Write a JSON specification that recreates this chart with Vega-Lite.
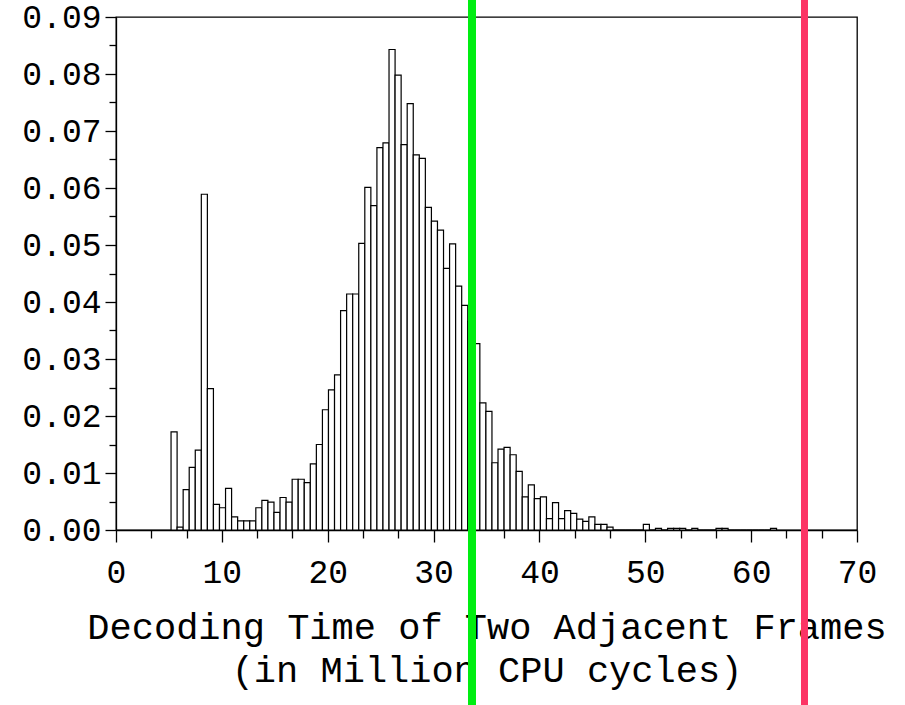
{
  "$schema": "https://vega.github.io/schema/vega-lite/v6.json",
  "width": 741,
  "height": 513,
  "autosize": {"type": "none"},
  "padding": {"left": 116, "top": 17, "right": 48, "bottom": 175},
  "background": "white",
  "config": {"view": {"stroke": "black", "strokeWidth": 1.3}, "font": "Liberation Mono"},
  "datasets": {
    "bins": [
      {"x0": 5.200, "x1": 5.772, "density": 0.0172},
      {"x0": 5.772, "x1": 6.344, "density": 0.0005},
      {"x0": 6.344, "x1": 6.916, "density": 0.0071},
      {"x0": 6.916, "x1": 7.488, "density": 0.0110},
      {"x0": 7.488, "x1": 8.060, "density": 0.0140},
      {"x0": 8.060, "x1": 8.632, "density": 0.0589},
      {"x0": 8.632, "x1": 9.204, "density": 0.0248},
      {"x0": 9.204, "x1": 9.776, "density": 0.0045},
      {"x0": 9.776, "x1": 10.348, "density": 0.0039},
      {"x0": 10.348, "x1": 10.920, "density": 0.0073},
      {"x0": 10.920, "x1": 11.492, "density": 0.0023},
      {"x0": 11.492, "x1": 12.064, "density": 0.0016},
      {"x0": 12.064, "x1": 12.636, "density": 0.0016},
      {"x0": 12.636, "x1": 13.208, "density": 0.0016},
      {"x0": 13.208, "x1": 13.780, "density": 0.0039},
      {"x0": 13.780, "x1": 14.352, "density": 0.0052},
      {"x0": 14.352, "x1": 14.924, "density": 0.0049},
      {"x0": 14.924, "x1": 15.496, "density": 0.0031},
      {"x0": 15.496, "x1": 16.068, "density": 0.0057},
      {"x0": 16.068, "x1": 16.640, "density": 0.0049},
      {"x0": 16.640, "x1": 17.212, "density": 0.0089},
      {"x0": 17.212, "x1": 17.784, "density": 0.0089},
      {"x0": 17.784, "x1": 18.356, "density": 0.0083},
      {"x0": 18.356, "x1": 18.928, "density": 0.0116},
      {"x0": 18.928, "x1": 19.500, "density": 0.0150},
      {"x0": 19.500, "x1": 20.072, "density": 0.0211},
      {"x0": 20.072, "x1": 20.644, "density": 0.0246},
      {"x0": 20.644, "x1": 21.216, "density": 0.0272},
      {"x0": 21.216, "x1": 21.788, "density": 0.0385},
      {"x0": 21.788, "x1": 22.360, "density": 0.0414},
      {"x0": 22.360, "x1": 22.932, "density": 0.0414},
      {"x0": 22.932, "x1": 23.504, "density": 0.0503},
      {"x0": 23.504, "x1": 24.076, "density": 0.0601},
      {"x0": 24.076, "x1": 24.648, "density": 0.0569},
      {"x0": 24.648, "x1": 25.220, "density": 0.0671},
      {"x0": 25.220, "x1": 25.792, "density": 0.0679},
      {"x0": 25.792, "x1": 26.364, "density": 0.0843},
      {"x0": 26.364, "x1": 26.936, "density": 0.0798},
      {"x0": 26.936, "x1": 27.508, "density": 0.0676},
      {"x0": 27.508, "x1": 28.080, "density": 0.0748},
      {"x0": 28.080, "x1": 28.652, "density": 0.0658},
      {"x0": 28.652, "x1": 29.224, "density": 0.0652},
      {"x0": 29.224, "x1": 29.796, "density": 0.0566},
      {"x0": 29.796, "x1": 30.368, "density": 0.0542},
      {"x0": 30.368, "x1": 30.940, "density": 0.0526},
      {"x0": 30.940, "x1": 31.512, "density": 0.0459},
      {"x0": 31.512, "x1": 32.084, "density": 0.0502},
      {"x0": 32.084, "x1": 32.656, "density": 0.0428},
      {"x0": 32.656, "x1": 33.228, "density": 0.0394},
      {"x0": 33.228, "x1": 33.800, "density": 0.0366},
      {"x0": 33.800, "x1": 34.372, "density": 0.0327},
      {"x0": 34.372, "x1": 34.944, "density": 0.0223},
      {"x0": 34.944, "x1": 35.516, "density": 0.0208},
      {"x0": 35.516, "x1": 36.088, "density": 0.0118},
      {"x0": 36.088, "x1": 36.660, "density": 0.0142},
      {"x0": 36.660, "x1": 37.232, "density": 0.0145},
      {"x0": 37.232, "x1": 37.804, "density": 0.0132},
      {"x0": 37.804, "x1": 38.376, "density": 0.0103},
      {"x0": 38.376, "x1": 38.948, "density": 0.0058},
      {"x0": 38.948, "x1": 39.520, "density": 0.0079},
      {"x0": 39.520, "x1": 40.092, "density": 0.0055},
      {"x0": 40.092, "x1": 40.664, "density": 0.0058},
      {"x0": 40.664, "x1": 41.236, "density": 0.0020},
      {"x0": 41.236, "x1": 41.808, "density": 0.0048},
      {"x0": 41.808, "x1": 42.380, "density": 0.0020},
      {"x0": 42.380, "x1": 42.952, "density": 0.0034},
      {"x0": 42.952, "x1": 43.524, "density": 0.0029},
      {"x0": 43.524, "x1": 44.096, "density": 0.0019},
      {"x0": 44.096, "x1": 44.668, "density": 0.0015},
      {"x0": 44.668, "x1": 45.240, "density": 0.0023},
      {"x0": 45.240, "x1": 45.812, "density": 0.0010},
      {"x0": 45.812, "x1": 46.384, "density": 0.0010},
      {"x0": 46.384, "x1": 46.956, "density": 0.0005},
      {"x0": 46.956, "x1": 47.528, "density": 0},
      {"x0": 47.528, "x1": 48.100, "density": 0},
      {"x0": 48.100, "x1": 48.672, "density": 0},
      {"x0": 48.672, "x1": 49.244, "density": 0},
      {"x0": 49.244, "x1": 49.816, "density": 0},
      {"x0": 49.816, "x1": 50.388, "density": 0.0010},
      {"x0": 50.388, "x1": 50.960, "density": 0},
      {"x0": 50.960, "x1": 51.532, "density": 0.0003},
      {"x0": 51.532, "x1": 52.104, "density": 0},
      {"x0": 52.104, "x1": 52.676, "density": 0.0003},
      {"x0": 52.676, "x1": 53.248, "density": 0.0003},
      {"x0": 53.248, "x1": 53.820, "density": 0.0003},
      {"x0": 53.820, "x1": 54.392, "density": 0},
      {"x0": 54.392, "x1": 54.964, "density": 0.0003},
      {"x0": 54.964, "x1": 55.536, "density": 0},
      {"x0": 55.536, "x1": 56.108, "density": 0},
      {"x0": 56.108, "x1": 56.680, "density": 0},
      {"x0": 56.680, "x1": 57.252, "density": 0.0003},
      {"x0": 57.252, "x1": 57.824, "density": 0.0003},
      {"x0": 57.824, "x1": 58.396, "density": 0},
      {"x0": 58.396, "x1": 58.968, "density": 0},
      {"x0": 58.968, "x1": 59.540, "density": 0},
      {"x0": 59.540, "x1": 60.112, "density": 0},
      {"x0": 60.112, "x1": 60.684, "density": 0},
      {"x0": 60.684, "x1": 61.256, "density": 0},
      {"x0": 61.256, "x1": 61.828, "density": 0},
      {"x0": 61.828, "x1": 62.400, "density": 0.0003}
    ]
  },
  "layer": [
    {
      "data": {"name": "bins"},
      "mark": {"type": "bar", "fill": "white", "stroke": "black", "strokeWidth": 1.2},
      "encoding": {
        "x": {
          "field": "x0", "type": "quantitative",
          "scale": {"domain": [0, 70], "nice": false, "zero": false},
          "axis": {
            "orient": "bottom",
            "values": [0, 10, 20, 30, 40, 50, 60, 70],
            "format": "d",
            "grid": false,
            "zindex": 0,
            "tickSize": 12, "tickColor": "black", "tickWidth": 1.3,
            "domainColor": "black", "domainWidth": 1.3,
            "labelFont": "Liberation Mono", "labelFontSize": 33, "labelColor": "black",
            "labelPadding": 14, "labelFlush": false, "labelOverlap": false,
            "title": ["Decoding Time of Two Adjacent Frames", "(in Million CPU cycles)"],
            "titleFont": "Liberation Mono", "titleFontSize": 37, "titleFontWeight": "normal",
            "titleColor": "black", "titlePadding": 20, "titleLineHeight": 43
          }
        },
        "x2": {"field": "x1"},
        "y": {
          "field": "density", "type": "quantitative",
          "scale": {"domain": [0, 0.09], "nice": false},
          "axis": {
            "orient": "left",
            "values": [0, 0.01, 0.02, 0.03, 0.04, 0.05, 0.06, 0.07, 0.08, 0.09],
            "format": ".2f",
            "grid": false,
            "zindex": 0,
            "tickSize": 11, "tickColor": "black", "tickWidth": 1.3,
            "domainColor": "black", "domainWidth": 1.3,
            "labelFont": "Liberation Mono", "labelFontSize": 33, "labelColor": "black",
            "labelPadding": 4, "labelFlush": false, "labelOverlap": false,
            "title": null
          }
        },
        "y2": {"datum": 0}
      }
    },
    {
      "data": {"name": "bins"},
      "mark": {"type": "bar", "opacity": 0},
      "encoding": {
        "x": {
          "field": "x0", "type": "quantitative",
          "scale": {"domain": [0, 70], "nice": false, "zero": false},
          "axis": {
            "orient": "bottom",
            "values": [3.3333, 6.6667, 13.3333, 16.6667, 23.3333, 26.6667, 33.3333, 36.6667, 43.3333, 46.6667, 53.3333, 56.6667, 63.3333, 66.6667],
            "grid": false, "zindex": 0, "domain": false, "labels": false,
            "tickSize": 8, "tickColor": "black", "tickWidth": 1.3,
            "title": null
          }
        },
        "x2": {"field": "x1"},
        "y": {
          "field": "density", "type": "quantitative",
          "scale": {"domain": [0, 0.09], "nice": false},
          "axis": {
            "orient": "left",
            "values": [0.005, 0.015, 0.025, 0.035, 0.045, 0.055, 0.065, 0.075, 0.085],
            "grid": false, "zindex": 0, "domain": false, "labels": false,
            "tickSize": 7, "tickColor": "black", "tickWidth": 1.3,
            "title": null
          }
        },
        "y2": {"datum": 0}
      }
    },
    {
      "data": {"values": [{"pos": 33.63, "top": 0.0935, "bottom": -0.031}]},
      "mark": {"type": "rule", "color": "#00ee11", "strokeWidth": 8},
      "encoding": {
        "x": {"field": "pos", "type": "quantitative", "axis": null},
        "y": {"field": "top", "type": "quantitative", "axis": null},
        "y2": {"field": "bottom"}
      }
    },
    {
      "data": {"values": [{"pos": 65.04, "top": 0.0935, "bottom": -0.031}]},
      "mark": {"type": "rule", "color": "#fc3465", "strokeWidth": 7},
      "encoding": {
        "x": {"field": "pos", "type": "quantitative", "axis": null},
        "y": {"field": "top", "type": "quantitative", "axis": null},
        "y2": {"field": "bottom"}
      }
    }
  ],
  "resolve": {"axis": {"x": "independent", "y": "independent"}}
}
